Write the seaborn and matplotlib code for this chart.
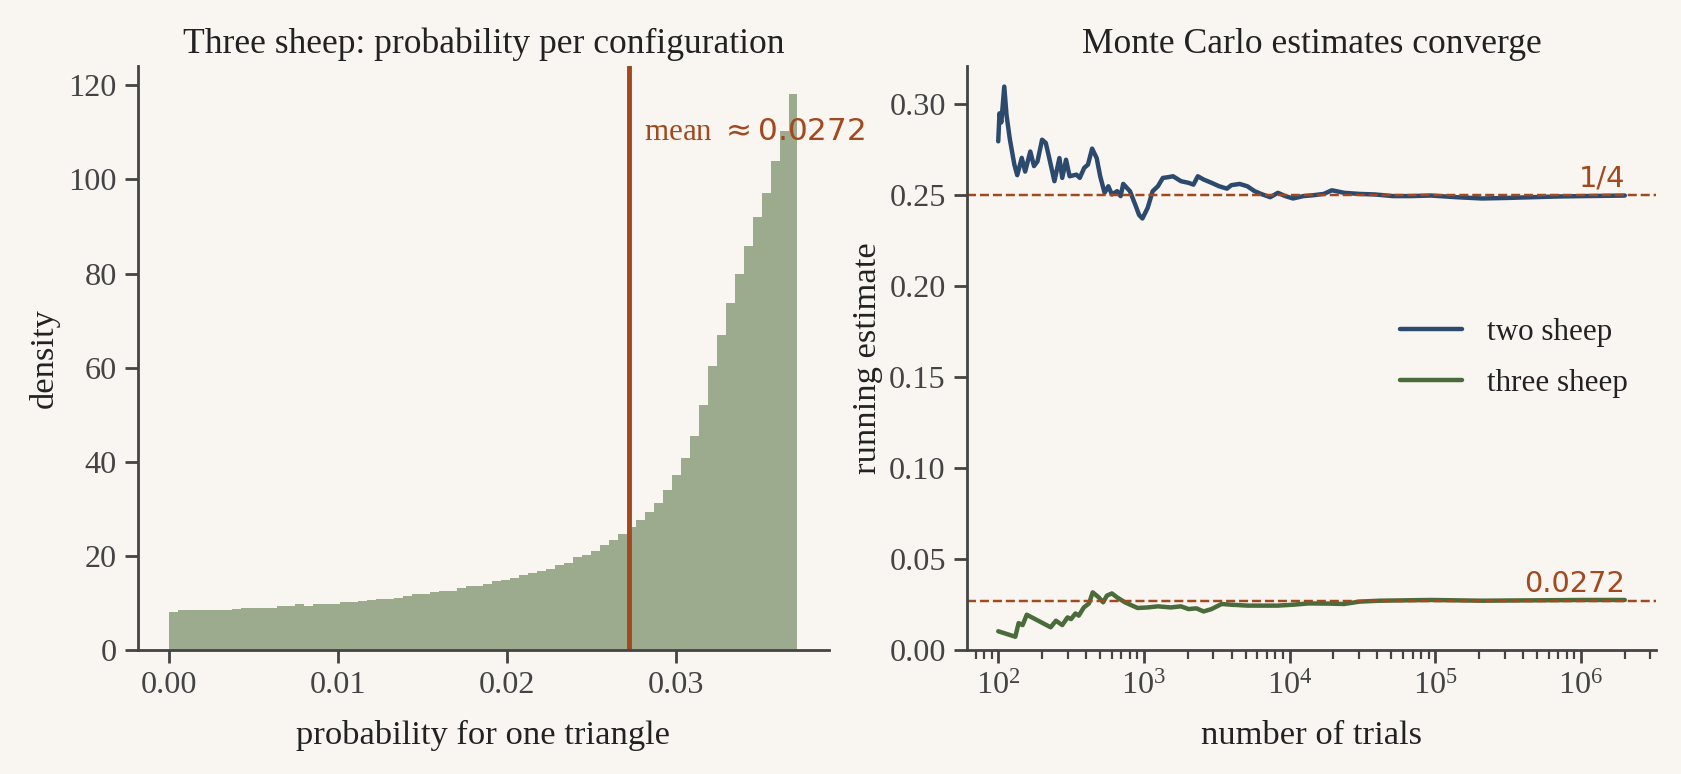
import matplotlib
matplotlib.use("Agg")
import matplotlib.pyplot as plt
import numpy as np
import seaborn as sns

# left panel: density per bin (70 bins on [0, 0.0372])
bin_lo, bin_hi, n_bins = 0.0, 0.0372, 70
density = [
    8.0, 8.4, 8.4, 8.4, 8.4, 8.6, 8.6, 8.8, 9.0, 9.0,
    9.0, 9.0, 9.35, 9.35, 9.8, 9.4, 9.8, 9.8, 9.8, 10.1,
    10.3, 10.5, 10.7, 10.9, 10.9, 11.1, 11.4, 11.8, 12.0, 12.3,
    12.6, 12.6, 13.1, 13.7, 13.7, 14.1, 14.6, 14.8, 15.4, 15.9,
    16.3, 16.7, 17.2, 18.1, 18.5, 19.7, 20.2, 21.1, 22.4, 23.3,
    24.7, 26.1, 27.7, 29.4, 31.3, 33.9, 37.1, 40.9, 45.4, 52.0,
    60.3, 66.9, 73.7, 80.0, 85.9, 92.0, 97.2, 104.0, 110.3, 118.2,
]
mean_p = 0.0272

# right panel: running estimates
two_trials = [
    100, 102, 105, 110, 114, 120, 129, 135, 145, 153,
    166, 176, 186, 200, 212, 224, 243, 263, 275, 292,
    309, 344, 363, 389, 413, 441, 474, 501, 537, 570,
    603, 655, 692, 721, 802, 871, 927, 977, 1062, 1148,
    1247, 1349, 1466, 1585, 1795, 2023, 2188, 2344, 2570, 2911,
    3289, 3715, 3981, 4539, 5129, 5754, 6516, 7362, 8318, 9333,
    10568, 12445, 14622, 17179, 19498, 23714, 30200, 38459, 51286, 67608,
    93325, 139637, 208930, 313329, 467735, 701455, 1047129, 2000000,
]
two_est = [
    0.2796, 0.295, 0.290, 0.3097, 0.294, 0.281, 0.2668, 0.261, 0.2705, 0.263,
    0.274, 0.266, 0.2686, 0.2805, 0.2787, 0.2704, 0.2577, 0.2704, 0.2595, 0.2695,
    0.2604, 0.2613, 0.2595, 0.265, 0.2668, 0.2756, 0.2704, 0.2604, 0.2513, 0.2549,
    0.2504, 0.2522, 0.2495, 0.2562, 0.2522, 0.2449, 0.2391, 0.2372, 0.2431, 0.2522,
    0.2549, 0.2595, 0.2599, 0.2604, 0.2577, 0.2568, 0.2558, 0.2604, 0.2586, 0.2568,
    0.2549, 0.2536, 0.2555, 0.2562, 0.2549, 0.2522, 0.2504, 0.2489, 0.2513, 0.2495,
    0.2482, 0.2495, 0.2500, 0.2507, 0.2527, 0.2513, 0.2507, 0.2504, 0.2495, 0.2495,
    0.2498, 0.2489, 0.2482, 0.2485, 0.2489, 0.2493, 0.2495, 0.2498,
]
three_trials = [
    100, 131, 138, 147, 157, 229, 249, 275, 299, 316,
    339, 357, 387, 420, 445, 490, 525, 557, 603, 655,
    741, 832, 904, 1062, 1247, 1528, 1795, 2023, 2291, 2570,
    2911, 3420, 3981, 5129, 6516, 8318, 10568, 13490, 18621, 23714,
    30200, 41687, 62373, 93325, 208930, 467735, 1047129, 2000000,
]
three_est = [
    0.0103, 0.0073, 0.0148, 0.0137, 0.0194, 0.0125, 0.0161, 0.0137, 0.0179, 0.0170,
    0.0201, 0.0189, 0.0234, 0.0256, 0.0317, 0.0289, 0.0262, 0.0299, 0.0311, 0.0289,
    0.0262, 0.0244, 0.0231, 0.0234, 0.0240, 0.0234, 0.0240, 0.0225, 0.0229, 0.0212,
    0.0225, 0.0253, 0.0249, 0.0244, 0.0244, 0.0244, 0.0249, 0.0256, 0.0255, 0.0253,
    0.0266, 0.0271, 0.0273, 0.0275, 0.0271, 0.0273, 0.0275, 0.0275,
]

bg = "#f9f5f0"
bar_col = "#9caa8e"
brown = "#a2491f"
navy = "#2c4a6e"
green = "#4a6b3a"
ink = "#444444"

sns.set_theme(style="ticks", rc={
    "axes.facecolor": bg, "figure.facecolor": bg,
    "axes.edgecolor": ink, "xtick.color": ink, "ytick.color": ink,
    "axes.labelcolor": "#222222", "text.color": "#222222",
})
plt.rcParams["font.family"] = ["Liberation Serif", "DejaVu Sans"]
plt.rcParams["mathtext.fontset"] = "dejavusans"

fig = plt.figure(figsize=(1681 / 160, 774 / 160), dpi=160)
ax1 = fig.add_axes([0.0821, 0.1602, 0.411, 0.7545])
ax2 = fig.add_axes([0.5752, 0.1602, 0.41, 0.7545])

# histogram rebuilt from the read bin heights
edges = np.linspace(bin_lo, bin_hi, n_bins + 1)
centers = (edges[:-1] + edges[1:]) / 2
sns.histplot(x=centers, weights=density, bins=n_bins, binrange=(bin_lo, bin_hi),
             ax=ax1, color=bar_col, alpha=1, edgecolor="none", linewidth=0)
ax1.axvline(mean_p, color=brown, lw=2.2)
ax1.text(mean_p + 0.0009, 110, r"mean $\approx 0.0272$", color=brown,
         fontsize=14, va="center")
ax1.set_title("Three sheep: probability per configuration", fontsize=16)
ax1.set_xlabel("probability for one triangle", fontsize=15.5, labelpad=9)
ax1.set_ylabel("density", fontsize=15.5)
ax1.tick_params(labelsize=14.5)
ax1.set_xticks([0.0, 0.01, 0.02, 0.03])
ax1.set_xticklabels(["0.00", "0.01", "0.02", "0.03"])

sns.lineplot(x=two_trials, y=two_est, ax=ax2, color=navy, lw=2.0, label="two sheep")
sns.lineplot(x=three_trials, y=three_est, ax=ax2, color=green, lw=2.0, label="three sheep")
ax2.set_xscale("log")
ax2.axhline(0.25, color=brown, lw=1.1, ls="--")
ax2.axhline(mean_p, color=brown, lw=1.1, ls="--")
ax2.text(2e6, 0.2515, "1/4", color=brown, ha="right", va="bottom",
         fontsize=13, family="DejaVu Sans")
ax2.text(2e6, 0.0287, "0.0272", color=brown, ha="right", va="bottom",
         fontsize=13, family="DejaVu Sans")
ax2.set_ylim(0, 0.321)
ax2.set_title("Monte Carlo estimates converge", fontsize=16)
ax2.set_xlabel("number of trials", fontsize=15.5, labelpad=9)
ax2.set_ylabel("running estimate", fontsize=15.5, labelpad=3)
ax2.tick_params(labelsize=14.5)
ax2.legend(frameon=False, loc="center right", bbox_to_anchor=(1.0, 0.50),
           fontsize=14, handlelength=2.0, labelspacing=0.7)

sns.despine(fig)
fig.savefig("out.png", dpi=160, facecolor=bg)
